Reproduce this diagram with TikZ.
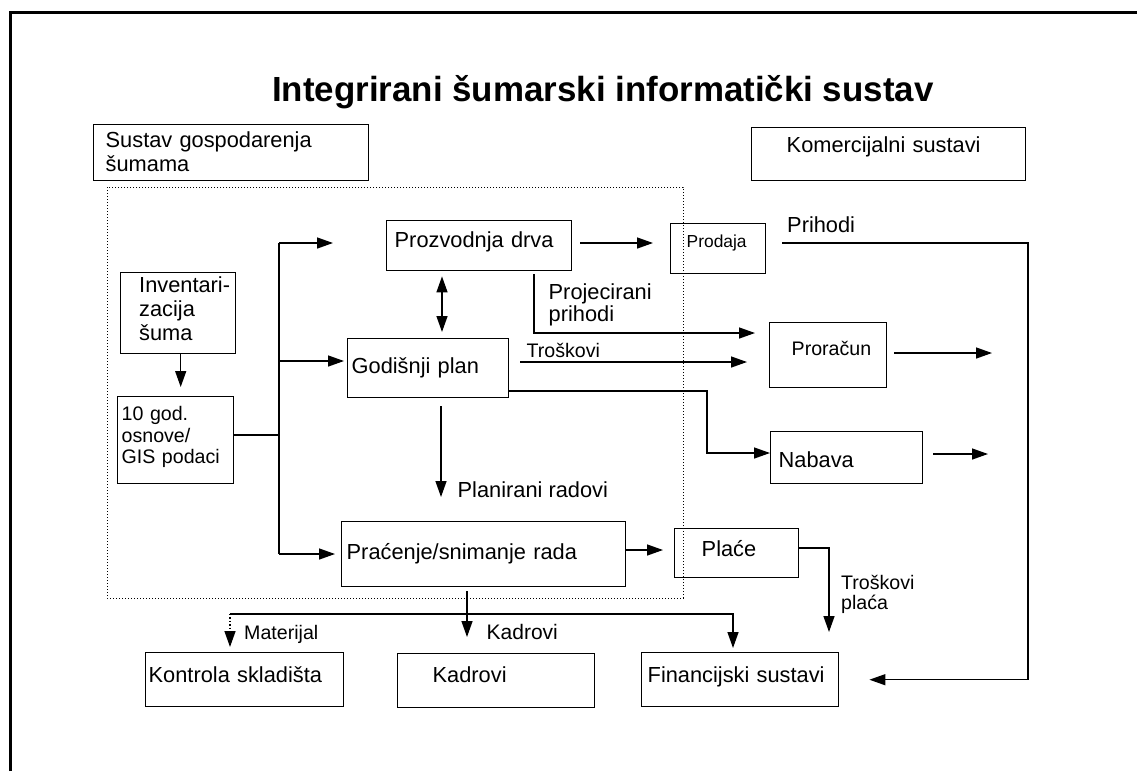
\documentclass[tikz,border=0pt]{standalone}
\usepackage{fontspec}
\setmainfont{Liberation Sans}
\usetikzlibrary{arrows.meta}
\hyphenpenalty=10000
\exhyphenpenalty=10000
% font sizes
\newcommand\fTitle{\bfseries\fontsize{34.9}{40}\selectfont}
\newcommand\fL{\fontsize{21.8}{23.5}\selectfont}
\newcommand\fM{\fontsize{19.6}{21.5}\selectfont}
\newcommand\fS{\fontsize{17.4}{20}\selectfont}
\begin{document}
\begin{tikzpicture}[x=1pt,y=-1pt,
  box/.style={draw, line width=1.4pt, anchor=north west, inner ysep=0pt, align=left, font=\fL},
  con/.style={line width=1.4pt},
  arr/.style={con, -{Triangle[length=16pt,width=11pt]}},
  arrtwo/.style={con, {Triangle[length=16pt,width=11pt]}-{Triangle[length=16pt,width=11pt]}},
  lbl/.style={anchor=base west, inner sep=0pt, align=left, font=\fL}]
\useasboundingbox (0,0) rectangle (1137,771);

% outer frame
\draw[line width=3pt] (10,771) -- (10,12) -- (1137,12);

% title
\node[anchor=base west, inner sep=0pt, font=\fTitle] (title) at (272,101) {Integrirani šumarski informatički sustav};

% forest management area
\draw[line width=1pt, dash pattern=on 1pt off 2pt] (107,187) rectangle (683,598);

% boxes
\node[box, inner xsep=12pt, text width=251pt, text height=23pt, text depth=33pt] (sustav) at (93,124) {Sustav gospodarenja\\šumama};
\node[box, inner xsep=35pt, text width=204pt, text height=25pt, text depth=28pt] (komer) at (751,127) {Komercijalni sustavi};
\node[box, inner xsep=8pt, text width=169pt, text height=27pt, text depth=23pt] (prozv) at (386,220) {Prozvodnja drva};
\node[box, font=\fS, inner xsep=16pt, text width=63pt, text height=24pt, text depth=26pt] (prodaja) at (670,223) {Prodaja};
\node[box, inner xsep=4pt, text width=153pt, text height=35pt, text depth=24pt] (godisnji) at (347,338) {Godišnji plan};
\node[box, font=\fM, inner xsep=22pt, text width=73pt, text height=33pt, text depth=32pt] (proracun) at (769,322) {Proračun};
\node[box, inner xsep=8pt, text width=136pt, text height=36pt, text depth=16pt] (nabava) at (770,431) {Nabava};
\node[box, font=\fontsize{21.8}{24}\selectfont, inner xsep=18.5pt, text width=78pt, text height=20pt, text depth=61pt] (inv) at (120,272) {Inventari-\\zacija\\šuma};
\node[box, font=\fM, inner xsep=4pt, text width=108pt, text height=24pt, text depth=63pt] (godten) at (117,396) {10 god.\\osnove/\\GIS podaci};
\node[box, inner xsep=5pt, text width=274pt, text height=38pt, text depth=27pt] (pracenje) at (341,521) {Praćenje/snimanje rada};
\node[box, inner xsep=27pt, text width=70pt, text height=28pt, text depth=21pt] (place) at (674,528) {Plaće};
\node[box, inner xsep=3pt, text width=192pt, text height=30pt, text depth=24pt] (kontrola) at (145,652) {Kontrola skladišta};
\node[box, inner xsep=35pt, text width=127pt, text height=29pt, text depth=25pt] (kadrovi) at (397,653) {Kadrovi};
\node[box, inner xsep=6pt, text width=185pt, text height=30pt, text depth=24pt] (financ) at (641,652) {Financijski sustavi};

% connector labels (multi-line labels sit on their last baseline)
\node[lbl] (lprihodi) at (787,232) {Prihodi};
\node[lbl, font=\fontsize{21.8}{22}\selectfont] (lproj) at (548.5,321.5) {Projecirani\\prihodi};
\node[lbl, font=\fM] (ltros) at (526.5,357) {Troškovi};
\node[lbl] (lplan) at (457.5,497) {Planirani radovi};
\node[lbl, font=\fontsize{19.6}{20}\selectfont] (ltrosp) at (841,609) {Troškovi\\plaća};
\node[lbl, font=\fM] (lmat) at (244,639) {Materijal};
\node[lbl, font=\fontsize{21}{24}\selectfont] (lkad) at (486.5,639) {Kadrovi};

% junction points and free ends
\coordinate (jA) at (279,243);
\coordinate (jB) at (279,361);
\coordinate (jC) at (279,435);
\coordinate (jD) at (279,554);
\coordinate (tA) at (333,243);
\coordinate (rTop) at (1028,243);
\coordinate (kNab) at (707,391);
\coordinate (ePror) at (992,353);
\coordinate (eNab) at (988,454);
\coordinate (hL) at (230,614);
\coordinate (hR) at (733,614);

% distribution from the 10-year plans
\draw[con] (godten.east |- jC) -- (jC);
\draw[con] (jA) -- (jD);
\draw[arr] (jA) -- (tA);
\draw[arr, shorten >=3pt] (jB) -- (godisnji.west |- jB);
\draw[arr, shorten >=6pt] (jD) -- (pracenje.west |- jD);
\draw[arr, shorten >=9pt] ([xshift=2.5pt]inv.south) -- ([xshift=2.5pt]inv.south |- godten.north);

% production and sales
\draw[arr, shorten <=8pt, shorten >=17pt] (prozv.east |- 0,243) -- (prodaja.west |- 0,243);
\draw[arr, shorten <=16pt, shorten >=30pt] (prodaja.east |- rTop) -- (rTop) |- (financ.east);
\draw[arrtwo, shorten <=5pt, shorten >=6pt] (prozv.south -| 442,0) -- (godisnji.north -| 442,0);
\draw[arr, shorten <=3pt, shorten >=14pt] (prozv.south -| 534,0) -- (534,333) -- (proracun.west |- 0,333);

% annual plan outputs
\draw[arr, shorten <=11pt, shorten >=22pt] (godisnji.east |- 0,362) -- (proracun.west |- 0,362);
\draw[arr, shorten <=7pt] (proracun.east |- ePror) -- (ePror);
\draw[arr] (godisnji.east |- kNab) -- (kNab) |- (nabava.west |- 0,453);
\draw[arr, shorten <=10pt] (nabava.east |- eNab) -- (eNab);
\draw[arr, shorten <=8pt, shorten >=24pt] (godisnji.south -| 441,0) -- (pracenje.north -| 441,0);

% work tracking outputs
\draw[arr, shorten >=11pt] (pracenje.east |- 0,550) -- (place.west |- 0,550);
\draw[arr, shorten >=20pt] (place.east |- 0,548) -| (financ.north -| 829,0);
\draw[arr, shorten <=4pt, shorten >=16pt] (pracenje.south -| 467,0) -- (kadrovi.north -| 467,0);
\draw[arr, shorten >=4pt] (hL) -- (hR) -- (financ.north -| hR);
\draw[arr, dotted, shorten >=5pt] (hL) -- (kontrola.north -| hL);
\end{tikzpicture}
\end{document}
